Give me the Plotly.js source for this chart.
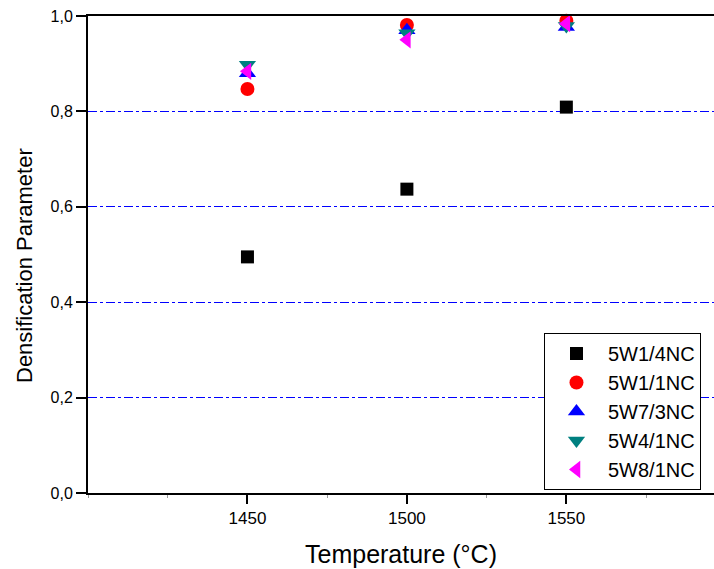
<!DOCTYPE html>
<html>
<head>
<meta charset="utf-8">
<script src="https://cdn.plot.ly/plotly-3.0.1.min.js"></script>
<style>html,body{margin:0;padding:0;background:#fff;}#chart{width:714px;height:569px;}</style>
</head>
<body>
<div id="chart"></div>
<script>
const temperatures = [1450, 1500, 1550];
const seriesNames = ["5W1/4NC", "5W1/1NC", "5W7/3NC", "5W4/1NC", "5W8/1NC"];
const s5W1_4NC = [0.495, 0.637, 0.809];
const s5W1_1NC = [0.847, 0.981, 0.990];
const s5W7_3NC = [0.880, 0.970, 0.977];
const s5W4_1NC = [0.898, 0.964, 0.979];
const s5W8_1NC = [0.884, 0.950, 0.984];
const yTickVals = [0, 0.2, 0.4, 0.6, 0.8, 1.0];
const xTickVals = [1450, 1500, 1550];
const xTitle = "Temperature (°C)";
const yTitle = "Densification Parameter";

const seriesValues = [s5W1_4NC, s5W1_1NC, s5W7_3NC, s5W4_1NC, s5W8_1NC];
const styles = [
  {symbol: "square", color: "#000000", size: 13},
  {symbol: "circle", color: "#ff0000", size: 14},
  {symbol: "triangle-up", color: "#0000ff", size: 15},
  {symbol: "triangle-down", color: "#008080", size: 15},
  {symbol: "triangle-left", color: "#ff00ff", size: 15}
];

const traces = seriesNames.map((name, i) => ({
  type: "scatter",
  mode: "markers",
  name: name,
  x: temperatures,
  y: seriesValues[i],
  marker: {symbol: styles[i].symbol, color: styles[i].color, size: styles[i].size, line: {width: 0}},
  cliponaxis: false
}));

const layout = {
  width: 714,
  height: 569,
  margin: {l: 88, r: 0, t: 16, b: 76},
  paper_bgcolor: "#ffffff",
  plot_bgcolor: "#ffffff",
  separators: ",.",
  font: {family: "'Liberation Sans', Arial, sans-serif", color: "#000000"},
  showlegend: true,
  legend: {
    x: 0.7284, y: 0.3354, xanchor: "left", yanchor: "top",
    bordercolor: "#000000", borderwidth: 1, bgcolor: "#ffffff",
    font: {size: 20, family: "'Liberation Sans', Arial, sans-serif"},
    itemwidth: 53, tracegroupgap: 0
  },
  xaxis: {
    range: [1400, 1596.3],
    tickvals: xTickVals,
    ticktext: xTickVals.map(String),
    ticks: "outside", ticklen: 9, tickwidth: 2, tickcolor: "#000000",
    showline: true, linecolor: "#000000", linewidth: 2, mirror: true,
    showgrid: false, zeroline: false,
    tickfont: {size: 17},
    minor: {dtick: 25, tick0: 1400, ticks: "outside", ticklen: 3, tickcolor: "#999999", tickwidth: 1, showgrid: false},
    title: {text: xTitle, font: {size: 25}, standoff: 18}
  },
  yaxis: {
    range: [0, 1.0],
    tickvals: yTickVals,
    tickformat: ".1f",
    ticks: "outside", ticklen: 10, tickwidth: 2, tickcolor: "#000000",
    showline: true, linecolor: "#000000", linewidth: 2, mirror: false,
    showgrid: true, gridcolor: "#0000ff", gridwidth: 1, griddash: "dashdot",
    zeroline: false,
    tickfont: {size: 16}
  },
  annotations: [{
    text: yTitle, textangle: -90,
    xref: "paper", yref: "paper",
    x: (24 - 88) / 626, y: (493 - 266) / 477,
    xanchor: "center", yanchor: "middle",
    showarrow: false,
    font: {size: 22}
  }]
};

Plotly.newPlot("chart", traces, layout, {displayModeBar: false, staticPlot: true});
</script>
</body>
</html>
